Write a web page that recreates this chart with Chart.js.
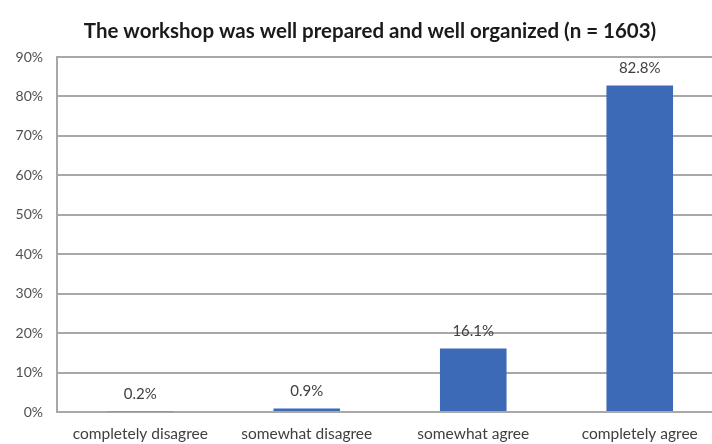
<!DOCTYPE html>
<html>
<head>
<meta charset="utf-8">
<script src="https://cdn.jsdelivr.net/npm/chart.js@4"></script>
<style>
    html, body {
        margin: 0;
        padding: 0;
        background: #ffffff;
        overflow: hidden;
    }
    #wrap {
        width: 740px;
        height: 444px;
    }
</style>
</head>
<body>
<div id="wrap"><canvas id="surveyChart" width="740" height="444"></canvas></div>
<script>
    const answerLabels = ["completely disagree", "somewhat disagree", "somewhat agree", "completely agree"];
    const answerShares = [0.2, 0.9, 16.1, 82.8];
    const percentTicks = [0, 10, 20, 30, 40, 50, 60, 70, 80, 90];
    const chartTitle = "The workshop was well prepared and well organized (n = 1603)";

    // title drawn over the whole canvas width, not just the plot
    const centeredTitle = {
        id: "centeredTitle",
        afterDraw: function (chart) {
            const ctx = chart.ctx;
            ctx.save();
            ctx.font = "bold 20.5px Lato, sans-serif";
            ctx.fillStyle = "#1a1a1a";
            ctx.textAlign = "center";
            ctx.textBaseline = "alphabetic";
            ctx.fillText(chartTitle, chart.width / 2, 38);
            ctx.restore();
        }
    };

    // value labels above each bar
    const barValueLabels = {
        id: "barValueLabels",
        afterDatasetsDraw: function (chart) {
            const ctx = chart.ctx;
            const meta = chart.getDatasetMeta(0);
            ctx.save();
            ctx.font = "15px Lato, sans-serif";
            ctx.fillStyle = "#404040";
            ctx.textAlign = "center";
            ctx.textBaseline = "bottom";
            meta.data.forEach(function (bar, i) {
                ctx.fillText(answerShares[i].toFixed(1) + "%", bar.x, bar.y - 10);
            });
            ctx.restore();
        }
    };

    new Chart(document.getElementById("surveyChart"), {
        type: "bar",
        data: {
            labels: answerLabels,
            datasets: [{
                data: answerShares,
                backgroundColor: "#3d6ab6",
                barPercentage: 0.4,
                categoryPercentage: 1.0
            }]
        },
        options: {
            responsive: false,
            animation: false,
            layout: {
                padding: { left: 0, right: 17, top: 57, bottom: 0 }
            },
            plugins: {
                legend: { display: false },
                tooltip: { enabled: false },
                title: { display: false }
            },
            scales: {
                x: {
                    grid: { display: false },
                    border: { display: false },
                    ticks: {
                        color: "#404040",
                        font: { family: "Lato, sans-serif", size: 15.5 },
                        maxRotation: 0,
                        autoSkip: false,
                        padding: 5
                    },
                    afterFit: function (scale) {
                        scale.height = 32;
                    }
                },
                y: {
                    min: 0,
                    max: 90,
                    afterBuildTicks: function (scale) {
                        scale.ticks = percentTicks.map(function (v) { return { value: v }; });
                    },
                    grid: {
                        color: "#a8a8a8",
                        lineWidth: 2,
                        drawTicks: false
                    },
                    border: { display: true, color: "#a8a8a8", width: 2 },
                    ticks: {
                        color: "#505050",
                        font: { family: "Lato, sans-serif", size: 14 },
                        padding: 14,
                        callback: function (value) {
                            return value + "%";
                        }
                    },
                    afterFit: function (scale) {
                        scale.width = 57;
                    }
                }
            }
        },
        plugins: [barValueLabels, centeredTitle]
    });
</script>
</body>
</html>
